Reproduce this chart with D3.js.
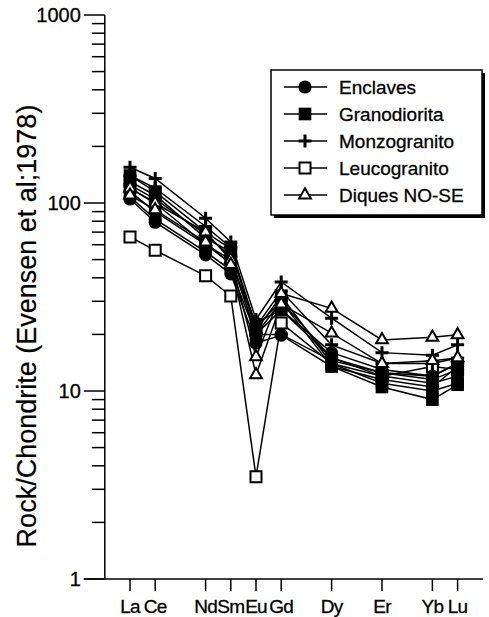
<!DOCTYPE html>
<html lang="es">
<head>
    <meta charset="UTF-8">
    <title>REE Rock/Chondrite</title>
    <script src="https://d3js.org/d3.v7.min.js"></script>
    <style>
        body { margin: 0; padding: 0; background: #fff; }
        svg { display: block; }
        text { font-family: 'Liberation Sans', Arial, Helvetica, sans-serif; fill: #000; stroke: #000; stroke-width: 0.3px; }
    </style>
</head>
<body>
    <svg width="489" height="617"></svg>

    <script>
        // elementos en el eje (sin Pm), y los que llevan dato
        const elements = ["La", "Ce", "Pr", "Nd", "Sm", "Eu", "Gd", "Tb", "Dy", "Ho", "Er", "Tm", "Yb", "Lu"];
        const sampled = ["La", "Ce", "Nd", "Sm", "Eu", "Gd", "Dy", "Er", "Yb", "Lu"];
        const yTicks = [1, 10, 100, 1000];
        const groups = ["Enclaves", "Granodiorita", "Monzogranito", "Leucogranito", "Diques NO-SE"];

        // valores normalizados a condrito, en el orden de sampled
        const enclaves = [
            [115, 90, 60, 48, 23, 27, 16, 13, 12, 14],
            [108, 82, 55, 44, 20, 20, 14.5, 12.5, 11.5, 13],
            [105, 79, 53, 42, 18, 19.8, 13.5, 11.5, 10.5, 13.5]
        ];
        const granodiorita = [
            [140, 115, 70, 57, 21, 32, 14, 11, 10, 11],
            [130, 110, 65, 55, 22, 30, 13.5, 10.5, 9, 10.8],
            [120, 100, 60, 50, 20, 27, 15, 12, 11, 12]
        ];
        const monzogranito = [
            [155, 135, 83, 62, 24, 38, 24.4, 16, 15.5, 17.6],
            [140, 120, 75, 58, 22, 34, 17.6, 14, 14, 15],
            [125, 105, 68, 52, 20, 30, 15, 12.5, 12, 14]
        ];
        const leucogranito = [
            [66, 56, 41, 32, 3.5, 23, 14, 12, 13.5, 13]
        ];
        const diques = [
            [120, 100, 70, 50, 15.2, 33, 27.5, 18.7, 19.3, 19.9],
            [110, 92, 62, 47, 12.2, 29, 20.3, 14, 14.5, 15]
        ];

        const svg = d3.select("svg");

        const x = d3.scalePoint().domain(elements).range([130, 457.6]);
        const y = d3.scaleLog().domain([1, 1000]).range([579, 15]);
        const step = x.step();
        const x0 = x.range()[0] - step;

        // ejes
        const axes = svg.append("g").attr("stroke", "#000").attr("stroke-width", 1.5);
        axes.append("line")
            .attr("x1", x0).attr("x2", x0)
            .attr("y1", y(1000)).attr("y2", y(1));
        axes.append("line")
            .attr("x1", x0 - 21).attr("x2", x.range()[1] + step)
            .attr("y1", y(1)).attr("y2", y(1));

        // ticks menores y mayores del eje log
        const minor = [];
        for (let d = 1; d < 1000; d *= 10) {
            for (let k = 2; k <= 9; k++) minor.push(d * k);
        }
        axes.selectAll(".minor").data(minor).enter().append("line")
            .attr("x1", x0 - 13).attr("x2", x0)
            .attr("y1", d => y(d)).attr("y2", d => y(d));
        axes.selectAll(".major").data(yTicks).enter().append("line")
            .attr("x1", x0 - 21).attr("x2", x0)
            .attr("y1", d => y(d)).attr("y2", d => y(d));

        svg.selectAll(".ylab").data(yTicks).enter().append("text")
            .attr("x", x0 - 24).attr("y", d => y(d) + 7)
            .attr("text-anchor", "end")
            .style("font-size", "20px")
            .text(d => d);

        axes.selectAll(".xt").data(sampled).enter().append("line")
            .attr("x1", d => x(d)).attr("x2", d => x(d))
            .attr("y1", y(1)).attr("y2", y(1) + 12);
        svg.selectAll(".xlab").data(sampled).enter().append("text")
            .attr("x", d => x(d)).attr("y", 613)
            .attr("text-anchor", "middle")
            .style("font-size", "19px")
            .style("letter-spacing", "-0.8px")
            .text(d => d);

        svg.append("text")
            .attr("transform", "translate(36,326) rotate(-90)")
            .attr("text-anchor", "middle")
            .style("font-size", "27px")
            .style("stroke-width", "0.2px")
            .text("Rock/Chondrite (Evensen et al;1978)");

        // simbolos
        const plusPath = "M-6.5,0H6.5M0,-6.5V6.5";
        const marker = {
            "Enclaves": { d: d3.symbol(d3.symbolCircle, 135)(), fill: "#000", sw: 0 },
            "Granodiorita": { d: d3.symbol(d3.symbolSquare, 160)(), fill: "#000", sw: 0 },
            "Monzogranito": { d: plusPath, fill: "none", sw: 3 },
            "Leucogranito": { d: d3.symbol(d3.symbolSquare, 121)(), fill: "#fff", sw: 2 },
            "Diques NO-SE": { d: d3.symbol(d3.symbolTriangle, 60)(), fill: "#fff", sw: 2 }
        };

        const series = [
            ["Leucogranito", leucogranito],
            ["Enclaves", enclaves],
            ["Granodiorita", granodiorita],
            ["Monzogranito", monzogranito],
            ["Diques NO-SE", diques]
        ];

        const line = d3.line().x(d => x(d[0])).y(d => y(d[1]));
        const lines = svg.append("g").attr("fill", "none").attr("stroke", "#000").attr("stroke-width", 1.5);
        series.forEach(([name, rows]) => {
            rows.forEach(r => {
                lines.append("path").attr("d", line(sampled.map((e, i) => [e, r[i]])));
            });
        });

        const marks = svg.append("g");
        series.forEach(([name, rows]) => {
            const m = marker[name];
            rows.forEach(r => {
                marks.selectAll(null).data(sampled.map((e, i) => [e, r[i]])).enter().append("path")
                    .attr("d", m.d)
                    .attr("transform", d => `translate(${x(d[0])},${y(d[1])})`)
                    .attr("fill", m.fill)
                    .attr("stroke", "#000")
                    .attr("stroke-width", m.sw);
            });
        });

        // leyenda
        const lg = svg.append("g").attr("transform", "translate(271,70)");
        lg.append("rect").attr("x", 3).attr("y", 3).attr("width", 211).attr("height", 145).attr("fill", "#000");
        lg.append("rect").attr("x", 0).attr("y", 0).attr("width", 211).attr("height", 145)
            .attr("fill", "#fff").attr("stroke", "#000").attr("stroke-width", 1.5);
        groups.forEach((g, i) => {
            const row = lg.append("g").attr("transform", `translate(0,${17 + i * 27})`);
            row.append("line").attr("x1", 13).attr("x2", 56).attr("stroke", "#000").attr("stroke-width", 1.5);
            const m = marker[g];
            row.append("path").attr("d", m.d).attr("transform", "translate(34,0)")
                .attr("fill", m.fill).attr("stroke", "#000").attr("stroke-width", m.sw);
            row.append("text").attr("x", 68).attr("y", 7).style("font-size", "19px").text(g);
        });
    </script>
</body>
</html>
